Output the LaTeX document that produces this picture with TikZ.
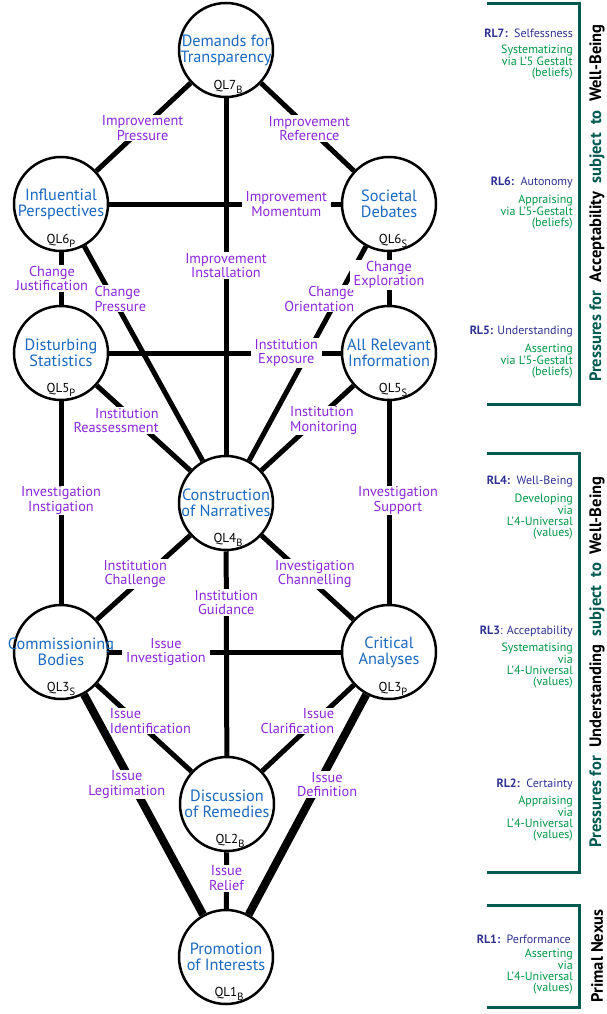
\documentclass[tikz,border=0pt]{standalone}
\usepackage{fontspec}
\setmainfont{PT Sans}
\definecolor{qlblue}{RGB}{27,106,192}
\definecolor{lblpurple}{RGB}{140,40,220}
\definecolor{rlnavy}{RGB}{46,49,146}
\definecolor{rlgreen}{RGB}{0,150,70}
\definecolor{barteal}{RGB}{0,90,80}
\newcommand{\qlname}[2]{QL#1\raisebox{-4pt}{\fontsize{10.5}{10}\selectfont #2}}

\begin{document}
\begin{tikzpicture}[x=1pt,y=-1pt,
	ql/.style={circle,draw=black,line width=2.5pt,fill=white,minimum size=94pt,inner sep=0pt},
	qltext/.style={align=center,text=qlblue,inner sep=0pt,font=\fontsize{16.3}{16}\selectfont},
	qltag/.style={inner sep=0pt,font=\fontsize{13}{13}\selectfont},
	link/.style={line width=5pt},
	heavylink/.style={line width=8pt},
	lbl/.style={fill=white,text=lblpurple,align=center,inner xsep=4pt,inner ysep=1pt,font=\fontsize{14.3}{14.5}\selectfont},
	rl/.style={anchor=east,inner sep=0pt,text=rlnavy,font=\fontsize{12}{13}\selectfont},
	rlnote/.style={anchor=north east,align=right,inner sep=0pt,text=rlgreen,font=\fontsize{12}{11.3}\selectfont},
	bracket/.style={draw=barteal,line width=3pt},
	side/.style={rotate=90,inner sep=0pt,font=\fontsize{16.5}{17}\selectfont\bfseries}]
	\useasboundingbox (0,0) rectangle (607,1014);
	\node[ql] (q7) at (226,50) {};
	\node[ql] (q6p) at (61,204) {};
	\node[ql] (q6s) at (389,204) {};
	\node[ql] (q5p) at (61,353) {};
	\node[ql] (q5s) at (389,353) {};
	\node[ql] (q4) at (226,503) {};
	\node[ql] (q3s) at (61,652) {};
	\node[ql] (q3p) at (389,652) {};
	\node[ql] (q2) at (227,804) {};
	\node[ql] (q1) at (226,957) {};
	\node[qltext] (q7txt) at (q7) {Demands for\\Transparency};
	\node[qltext] (q6ptxt) at (q6p) {Influential\\Perspectives};
	\node[qltext] (q6stxt) at (q6s) {Societal\\Debates};
	\node[qltext] (q5ptxt) at (q5p) {Disturbing\\Statistics};
	\node[qltext] (q5stxt) at (q5s) {All Relevant\\Information};
	\node[qltext] (q4txt) at (q4) {Construction\\of Narratives};
	\node[qltext] (q3stxt) at (q3s) {Commissioning\\Bodies};
	\node[qltext] (q3ptxt) at (q3p) {Critical\\Analyses};
	\node[qltext] (q2txt) at (q2) {Discussion\\of Remedies};
	\node[qltext] (q1txt) at (q1) {Promotion\\of Interests};
	\node[qltag] (q7tag) at (228,87) {\qlname{7}{B}};
	\node[qltag] (q6ptag) at (61,241) {\qlname{6}{P}};
	\node[qltag] (q6stag) at (393,241) {\qlname{6}{S}};
	\node[qltag] (q5ptag) at (61,390) {\qlname{5}{P}};
	\node[qltag] (q5stag) at (393,390) {\qlname{5}{S}};
	\node[qltag] (q4tag) at (228,540) {\qlname{4}{B}};
	\node[qltag] (q3stag) at (61,689) {\qlname{3}{S}};
	\node[qltag] (q3ptag) at (393,689) {\qlname{3}{P}};
	\node[qltag] (q2tag) at (230,841) {\qlname{2}{B}};
	\node[qltag] (q1tag) at (229,994) {\qlname{1}{B}};
	\draw[link] (q7) -- node[lbl,pos=0.51] (lbimpp) {Improvement\\Pressure} (q6p);
	\draw[link] (q7) -- node[lbl,pos=0.52] (lbimpr) {Improvement\\Reference} (q6s);
	\draw[link] (q7) -- node[lbl,pos=0.47] (lbimpi) {Improvement\\Installation} (q4);
	\draw[link] (q6p) -- node[lbl,pos=0.5,xshift=-9] (lbchj) {Change\\Justification} (q5p);
	\draw[link] (q6p) -- node[lbl,pos=0.245,xshift=7,align=left] (lbchp) {Change\\Pressure} (q4);
	\draw[link] (q6s) -- node[lbl,pos=0.245,xshift=-18,align=right] (lbcho) {Change\\Orientation} (q4);
	\draw[link] (q6s) -- node[lbl,pos=0.43] (lbche) {Change\\Exploration} (q5s);
	\draw[link] (q5p) -- node[lbl,pos=0.41,xshift=-19,align=right] (lbinr) {Institution\\Reassessment} (q4);
	\draw[link] (q5s) -- node[lbl,pos=0.41,xshift=8,align=left] (lbinm) {Institution\\Monitoring} (q4);
	\draw[link] (q5p) -- node[lbl,pos=0.49] (lbivi) {Investigation\\Instigation} (q3s);
	\draw[link] (q5s) -- node[lbl,pos=0.49,xshift=9] (lbivs) {Investigation\\Support} (q3p);
	\draw[link] (q4) -- node[lbl,pos=0.46,xshift=-12] (lbinc) {Institution\\Challenge} (q3s);
	\draw[link] (q4) -- node[lbl,pos=0.46,xshift=11] (lbivc) {Investigation\\Channelling} (q3p);
	\draw[link] (q4) -- node[lbl,pos=0.25] (lbing) {Institution\\Guidance} (q2);
	\draw[link] (q3s) -- node[lbl,pos=0.42,xshift=14,align=left] (lbisid) {Issue\\Identification} (q2);
	\draw[link] (q3p) -- node[lbl,pos=0.42,xshift=-18,align=right] (lbiscl) {Issue\\Clarification} (q2);
	\draw[heavylink] (q3s) -- node[lbl,pos=0.41,xshift=-6] (lbisle) {Issue\\Legitimation} (q1);
	\draw[heavylink] (q3p) -- node[lbl,pos=0.41,xshift=9] (lbisde) {Issue\\Definition} (q1);
	\draw[link] (q2) -- node[lbl,pos=0.46] (lbisre) {Issue\\Relief} (q1);
	\draw[link] (q6p) -- node[lbl,pos=0.765] (lbimpm) {Improvement\\Momentum} (q6s);
	\draw[link] (q5p) -- node[lbl,pos=0.765] (lbinx) {Institution\\Exposure} (q5s);
	\draw[link] (q3s) -- node[lbl,pos=0.245] (lbisin) {Issue\\Investigation} (q3p);
	\draw[bracket] (487,4) -- (579,4) -- (579,404) -- (487,404);
	\draw[bracket] (487,453) -- (579,453) -- (579,872) -- (487,872);
	\draw[bracket] (487,905) -- (579,905) -- (579,1007) -- (487,1007);
	\node[side] (sideup) at (597,203) {\textcolor{barteal}{Pressures for}\ \ Acceptability\ \ \textcolor{barteal}{subject\ \ to}\ \ Well-Being};
	\node[side] (sidemid) at (597,662) {\textcolor{barteal}{Pressures for}\ \ Understanding\ \ \textcolor{barteal}{subject\ \ to}\ \ Well-Being};
	\node[side] (sidelow) at (597,956) {Primal Nexus};
	\node[rl] (rl7) at (573,33) {\textbf{RL7:}\ \ Selfessness};
	\node[rlnote] (rl7n) at (573,45) {Systematizing\\via L’5 Gestalt\\(beliefs)};
	\node[rl] (rl6) at (573,182) {\textbf{RL6:}\ \ Autonomy};
	\node[rlnote] (rl6n) at (573,195) {Appraising\\via L’5-Gestalt\\(beliefs)};
	\node[rl] (rl5) at (573,332) {\textbf{RL5:} Understanding};
	\node[rlnote] (rl5n) at (573,344) {Asserting\\via L’5-Gestalt\\(beliefs)};
	\node[rl] (rl4) at (573,482) {\textbf{RL4:}\ \ Well-Being};
	\node[rlnote] (rl4n) at (573,494) {Developing\\via\\L’4-Universal\\(values)};
	\node[rl] (rl3) at (573,631) {\textbf{RL3}: Acceptability};
	\node[rlnote] (rl3n) at (573,643) {Systematising\\via\\L’4-Universal\\(values)};
	\node[rl] (rl2) at (573,784) {\textbf{RL2:}\ \ Certainty};
	\node[rlnote] (rl2n) at (573,796) {Appraising\\via\\L’4-Universal\\(values)};
	\node[rl] (rl1) at (571,939) {\textbf{RL1:}\ \ Performance};
	\node[rlnote] (rl1n) at (573,949) {Asserting\\via\\L’4-Universal\\(values)};
\end{tikzpicture}
\end{document}
